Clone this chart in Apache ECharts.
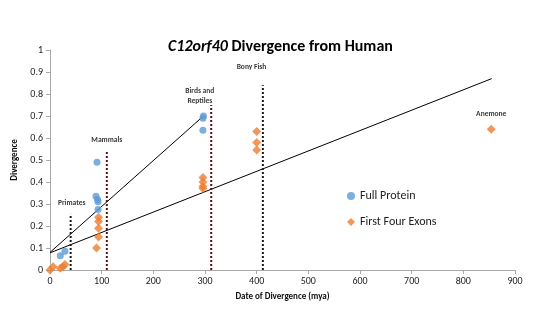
<!DOCTYPE html>
<html><head><meta charset="utf-8">
<script src="https://cdn.jsdelivr.net/npm/echarts@6/dist/echarts.min.js"></script>
<style>html,body{margin:0;padding:0;background:#fff}#c{width:550px;height:326px}</style>
</head><body><div id="c"></div>
<script>
// Full Protein divergence points [mya, divergence]
const fullProtein = [
  [20, 0.065], [29, 0.085],
  [91, 0.49], [89, 0.335], [92, 0.32], [93, 0.31], [93, 0.275],
  [297, 0.70], [296, 0.69], [296, 0.635]
];
// First Four Exons divergence points
const firstFourExons = [
  [0, 0], [6, 0.015], [20, 0.008], [25, 0.015], [29, 0.025],
  [94, 0.24], [94, 0.22], [94, 0.19], [94, 0.15], [90, 0.10],
  [296, 0.42], [296, 0.40], [296, 0.38], [296, 0.37],
  [400, 0.63], [400, 0.58], [400, 0.545],
  [854, 0.64]
];
// Linear trend lines (end points)
const trendFull = [[0, 0.08], [297, 0.70]];
const trendExons = [[0, 0.078], [855, 0.87]];
// Divergence markers: name, x (mya), top of dotted line
const groupNames = ['Primates', 'Mammals', 'Birds and\nReptiles', 'Bony Fish'];
const groupX = [40, 110, 312, 412];
const groupTop = [0.255, 0.54, 0.75, 0.84];
const groupLabelX = [42, 110, 290, 390];
const groupLabelY = [0.305, 0.59, 0.79, 0.92];
const anemoneLabel = ['Anemone', 854, 0.71];
const xTicks = {min: 0, max: 900, interval: 100};
const yTicks = {min: 0, max: 1, interval: 0.1};

const chart = echarts.init(document.getElementById('c'));
const font = "Calibri, Carlito, 'Open Sans', 'Liberation Sans', sans-serif";
const series = [
  {name: 'trend1', type: 'line', data: trendFull, symbol: 'none', silent: true,
   lineStyle: {color: '#000', width: 1}, z: 2},
  {name: 'trend2', type: 'line', data: trendExons, symbol: 'none', silent: true,
   lineStyle: {color: '#000', width: 1}, z: 2}
];
const lineColors = ['#1a1a1a', '#5a1010', '#5a1010', '#1a1a1a'];
groupNames.forEach((n, i) => {
  series.push({type: 'line', symbol: 'none', silent: true, z: 2,
    data: [[groupX[i], 0], [groupX[i], groupTop[i]]],
    lineStyle: {color: lineColors[i], width: 2, type: [2, 2]}});
});
series.push({type: 'scatter', symbolSize: 0, silent: true, z: 5,
  data: groupNames.map((n, i) => ({value: [groupLabelX[i], groupLabelY[i]], name: n}))
    .concat([{value: [anemoneLabel[1], anemoneLabel[2]], name: anemoneLabel[0]}]),
  label: {show: true, position: 'inside', formatter: p => p.name, fontFamily: font,
    fontSize: 7.5, fontWeight: 'bold', color: '#000', lineHeight: 10}});
series.push({name: 'Full Protein', type: 'scatter', data: fullProtein, symbol: 'circle',
  symbolSize: 7, itemStyle: {color: '#5b9bd5'}, z: 4});
series.push({name: 'First Four Exons', type: 'scatter', data: firstFourExons, symbol: 'diamond',
  symbolSize: 9, itemStyle: {color: '#ed7d31'}, z: 3});

chart.setOption({
  animation: false,
  backgroundColor: '#fff',
  title: {
    text: '{i|C12orf40}{b| Divergence from Human}', top: 34, left: 163,
    textStyle: {rich: {
      i: {fontFamily: font, fontSize: 16, fontStyle: 'italic', fontWeight: 'bold', color: '#000'},
      b: {fontFamily: font, fontSize: 16, fontWeight: 'bold', color: '#000'}
    }}
  },
  legend: {
    data: [{name: 'Full Protein', icon: 'circle'}, {name: 'First Four Exons', icon: 'diamond'}],
    orient: 'vertical', left: 342, top: 185, itemWidth: 8, itemHeight: 8, itemGap: 14,
    textStyle: {fontFamily: font, fontSize: 12, color: '#222'}
  },
  grid: {left: 50, right: 35, top: 50, bottom: 56, containLabel: false},
  xAxis: {
    type: 'value', min: xTicks.min, max: xTicks.max, interval: xTicks.interval,
    name: 'Date of Divergence (mya)', nameLocation: 'middle', nameGap: 22,
    nameTextStyle: {fontFamily: font, fontSize: 9, fontWeight: 'bold', color: '#111'},
    axisLine: {lineStyle: {color: '#aaa'}}, axisTick: {show: true, lineStyle: {color: '#aaa'}, length: 4},
    axisLabel: {fontFamily: font, fontSize: 10, color: '#222', margin: 6},
    splitLine: {show: false}
  },
  yAxis: {
    type: 'value', min: yTicks.min, max: yTicks.max, interval: yTicks.interval,
    name: 'Divergence', nameLocation: 'middle', nameGap: 28,
    nameTextStyle: {fontFamily: font, fontSize: 9, fontWeight: 'bold', color: '#111'},
    axisLine: {show: true, lineStyle: {color: '#aaa'}}, axisTick: {show: true, lineStyle: {color: '#aaa'}, length: 4},
    axisLabel: {fontFamily: font, fontSize: 10, color: '#222', margin: 7},
    splitLine: {show: false}
  },
  series: series
});
</script></body></html>
